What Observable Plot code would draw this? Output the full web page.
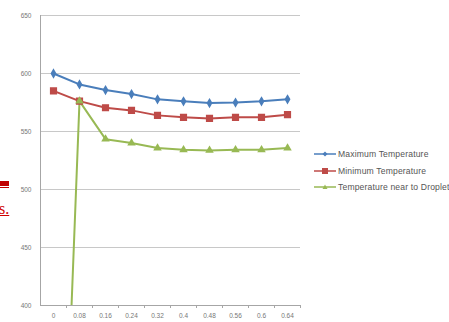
<!DOCTYPE html>
<html><head><meta charset="utf-8">
<script src="https://cdn.jsdelivr.net/npm/d3@7"></script>
<script src="https://cdn.jsdelivr.net/npm/@observablehq/plot@0.6"></script>
<style>
body{margin:0;background:#fff;}
#wrap{position:relative;width:449px;height:322px;overflow:hidden;font-family:"Liberation Sans",Arial,sans-serif;}
#legend{position:absolute;left:314px;top:146px;font-size:8.6px;letter-spacing:0.15px;color:#555;white-space:nowrap;}
.li{height:16.5px;display:flex;align-items:center;}
.li svg{margin-right:2px;}
#art1{position:absolute;left:0;top:181px;width:9px;height:5px;background:#c00000;}
#art1b{position:absolute;left:0;top:187px;width:9px;height:1px;background:#c00000;}
#art2{position:absolute;left:-1px;top:200px;font-family:"Liberation Serif",serif;font-size:16px;color:#d00000;text-decoration:underline;line-height:17px;}
</style></head>
<body><div id="wrap"><div id="chart"></div><div id="legend"></div>
<div id="art1"></div><div id="art1b"></div><div id="art2">s.</div></div>
<script>
const categories = ["0","0.08","0.16","0.24","0.32","0.4","0.48","0.56","0.6","0.64"];
const maxTemp = [600, 590.6, 585.7, 582.3, 577.7, 576, 574.5, 574.9, 576, 577.7];
const minTemp = [585, 576.2, 570.5, 568.2, 563.9, 562.2, 561.3, 562.2, 562.2, 564.5];
const dropTemp = [0, 576.2, 543.4, 540, 535.7, 534.2, 533.7, 534.2, 534.2, 535.7];
const seriesNames = ["Maximum Temperature","Minimum Temperature","Temperature near to Droplet"];
const colors = ["#4a7ebb","#be4b48","#98b954"];
const symbols = ["diamond","square","triangle"];
const yTicks = [400,450,500,550,600,650];

const allSeries = [maxTemp, minTemp, dropTemp];

const plot = Plot.plot({
  width:449, height:322,
  marginLeft:40, marginRight:149, marginTop:15, marginBottom:17,
  style:{background:"transparent", fontFamily:"Liberation Sans, Arial, sans-serif"},
  x:{type:"point", domain:categories, padding:0.5, axis:null},
  y:{type:"linear", domain:[400,650], axis:null},
  marks:[
    Plot.ruleY(yTicks.filter(t=>t>400), {y:d=>d, stroke:"#c8c8c8", strokeWidth:1}),
    Plot.ruleY([400], {y:d=>d, stroke:"#a6a6a6", strokeWidth:1}),
    Plot.ruleX([categories[0]], {x:d=>d, dx:-13, stroke:"#a6a6a6", strokeWidth:1}),
    Plot.ruleX(categories, {x:d=>d, y1:400, y2:400, dx:13, insetBottom:-3, stroke:"#a6a6a6", strokeWidth:1}),
    Plot.text(yTicks, {x:()=>categories[0], y:d=>d, text:d=>String(d), dx:-22, textAnchor:"end", fontSize:6.5, fill:"#777"}),
    Plot.text(categories, {x:d=>d, y:()=>400, text:d=>d, dy:10, fontSize:6.5, fill:"#777"}),
    ...allSeries.map((vals,si)=>Plot.line(vals.map((v,i)=>({cat:categories[i],v})), {x:"cat", y:"v", stroke:colors[si], strokeWidth:2, clip:true})),
    ...allSeries.map((vals,si)=>Plot.dot(vals.map((v,i)=>({cat:categories[i],v})).filter(d=>d.v>=400), {x:"cat", y:"v", symbol:symbols[si], fill:colors[si], stroke:colors[si], r: si===1?3.2:2.2}))
  ]
});
document.getElementById("chart").appendChild(plot);

const leg = document.getElementById("legend");
seriesNames.forEach((n,i)=>{
  const div = document.createElement("div"); div.className="li";
  const shapes = [
    '<path d="M11,1.5 L13.5,4 L11,6.5 L8.5,4Z" fill="'+colors[i]+'"/>',
    '<rect x="8" y="1" width="6" height="6" fill="'+colors[i]+'"/>',
    '<path d="M11,1.5 L13.5,6 L8.5,6Z" fill="'+colors[i]+'"/>'
  ];
  div.innerHTML = '<svg width="22" height="8"><line x1="0" x2="22" y1="4" y2="4" stroke="'+colors[i]+'" stroke-width="1.5"/>'+shapes[i]+'</svg><span>'+n+'</span>';
  leg.appendChild(div);
});
</script></body></html>
